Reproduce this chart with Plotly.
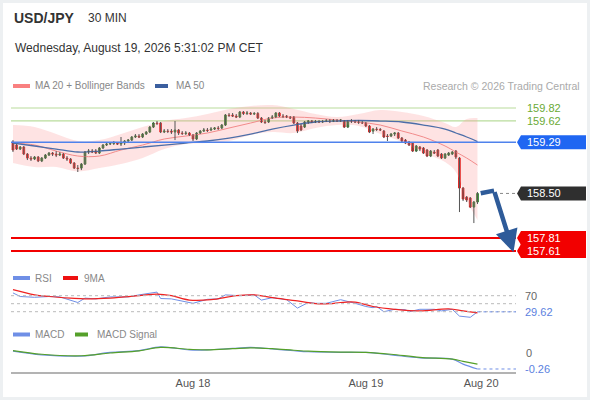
import plotly.graph_objects as go

W, H = 590, 400
FONT = "Arial, Liberation Sans, sans-serif"

# ---- price candles (30 min bars, left to right) ----
opens = [159.294, 159.248, 159.186, 159.217, 159.109, 159.047, 159.032, 159.062, 159.001, 159.047,
         159.093, 159.124, 159.109, 159.093, 159.109, 159.047, 159.032, 158.970, 158.892, 158.892,
         158.954, 159.140, 159.155, 159.155, 159.124, 159.202, 159.248, 159.263, 159.271, 159.279,
         159.263, 159.279, 159.310, 159.325, 159.372, 159.387, 159.372, 159.418, 159.449, 159.526,
         159.588, 159.588, 159.449, 159.464, 159.464, 159.449, 159.480, 159.433, 159.426, 159.433,
         159.403, 159.341, 159.433, 159.464, 159.480, 159.480, 159.495, 159.511, 159.511, 159.557,
         159.712, 159.712, 159.696, 159.681, 159.758, 159.735, 159.743, 159.727, 159.735, 159.665,
         159.604, 159.604, 159.665, 159.681, 159.743, 159.696, 159.696, 159.681, 159.681, 159.588,
         159.542, 159.526, 159.604, 159.619, 159.604, 159.611, 159.604, 159.611, 159.619, 159.611,
         159.627, 159.619, 159.619, 159.526, 159.619, 159.611, 159.604, 159.596, 159.588, 159.542,
         159.464, 159.495, 159.488, 159.464, 159.387, 159.387, 159.418, 159.433, 159.356, 159.325,
         159.294, 159.279, 159.155, 159.217, 159.202, 159.171, 159.078, 159.140, 159.171, 159.109,
         159.047, 159.093, 159.109, 159.155, 159.047, 158.583, 158.444, 158.429, 158.289, 158.367]
highs = [159.325, 159.263, 159.233, 159.233, 159.124, 159.078, 159.078, 159.078, 159.062, 159.109,
         159.140, 159.140, 159.155, 159.140, 159.124, 159.078, 159.047, 158.985, 158.939, 158.970,
         159.155, 159.186, 159.186, 159.186, 159.217, 159.263, 159.294, 159.294, 159.310, 159.294,
         159.372, 159.325, 159.341, 159.387, 159.418, 159.418, 159.433, 159.464, 159.542, 159.604,
         159.619, 159.604, 159.495, 159.495, 159.495, 159.619, 159.495, 159.464, 159.464, 159.449,
         159.418, 159.449, 159.480, 159.511, 159.511, 159.526, 159.526, 159.542, 159.573, 159.727,
         159.743, 159.743, 159.727, 159.774, 159.774, 159.774, 159.758, 159.758, 159.758, 159.681,
         159.635, 159.681, 159.712, 159.758, 159.758, 159.727, 159.712, 159.696, 159.696, 159.604,
         159.573, 159.619, 159.635, 159.635, 159.635, 159.635, 159.635, 159.650, 159.650, 159.650,
         159.650, 159.650, 159.635, 159.635, 159.650, 159.635, 159.635, 159.619, 159.604, 159.557,
         159.511, 159.526, 159.511, 159.480, 159.418, 159.433, 159.449, 159.449, 159.372, 159.341,
         159.310, 159.294, 159.248, 159.233, 159.217, 159.186, 159.171, 159.171, 159.186, 159.124,
         159.124, 159.140, 159.155, 159.171, 159.062, 158.599, 158.460, 158.444, 158.382, 158.521]
lows = [159.140, 159.171, 159.171, 159.093, 159.016, 159.001, 159.016, 158.985, 158.985, 159.032,
        159.078, 159.078, 159.062, 159.078, 159.032, 159.001, 158.954, 158.877, 158.831, 158.861,
        158.939, 159.109, 159.124, 159.109, 159.109, 159.186, 159.233, 159.248, 159.248, 159.248,
        159.233, 159.248, 159.279, 159.310, 159.356, 159.356, 159.356, 159.403, 159.433, 159.511,
        159.557, 159.433, 159.433, 159.433, 159.418, 159.325, 159.403, 159.403, 159.403, 159.387,
        159.310, 159.325, 159.418, 159.449, 159.449, 159.464, 159.480, 159.480, 159.495, 159.542,
        159.681, 159.681, 159.665, 159.665, 159.712, 159.712, 159.712, 159.712, 159.650, 159.588,
        159.573, 159.588, 159.650, 159.665, 159.681, 159.665, 159.665, 159.650, 159.573, 159.433,
        159.464, 159.511, 159.573, 159.588, 159.588, 159.588, 159.588, 159.604, 159.588, 159.604,
        159.604, 159.604, 159.511, 159.511, 159.588, 159.588, 159.573, 159.573, 159.526, 159.433,
        159.418, 159.464, 159.464, 159.356, 159.310, 159.372, 159.387, 159.341, 159.294, 159.263,
        159.233, 159.140, 159.140, 159.155, 159.109, 159.062, 159.062, 159.109, 159.062, 159.032,
        159.032, 159.078, 159.093, 159.032, 158.212, 158.382, 158.367, 158.274, 158.042, 158.336]
closes = [159.171, 159.186, 159.217, 159.109, 159.047, 159.032, 159.062, 159.001, 159.047, 159.093,
          159.124, 159.109, 159.093, 159.109, 159.047, 159.032, 158.970, 158.892, 158.885, 158.954,
          159.140, 159.155, 159.140, 159.124, 159.202, 159.248, 159.263, 159.271, 159.279, 159.263,
          159.279, 159.310, 159.325, 159.372, 159.387, 159.372, 159.418, 159.449, 159.526, 159.588,
          159.580, 159.449, 159.464, 159.457, 159.449, 159.480, 159.433, 159.426, 159.433, 159.403,
          159.341, 159.433, 159.464, 159.480, 159.472, 159.495, 159.511, 159.503, 159.557, 159.712,
          159.704, 159.696, 159.681, 159.758, 159.735, 159.743, 159.727, 159.735, 159.665, 159.604,
          159.596, 159.665, 159.681, 159.743, 159.696, 159.689, 159.681, 159.665, 159.588, 159.464,
          159.480, 159.604, 159.619, 159.604, 159.611, 159.604, 159.611, 159.619, 159.611, 159.627,
          159.619, 159.635, 159.526, 159.619, 159.611, 159.604, 159.596, 159.588, 159.542, 159.449,
          159.495, 159.488, 159.480, 159.372, 159.380, 159.418, 159.433, 159.356, 159.310, 159.279,
          159.248, 159.155, 159.233, 159.186, 159.124, 159.078, 159.155, 159.124, 159.078, 159.047,
          159.109, 159.124, 159.140, 159.062, 158.583, 158.413, 158.398, 158.289, 158.367, 158.500]

# ---- MA 20 + Bollinger Bands, MA 50 (read at these bar positions) ----
band_idx = [0, 6, 12, 18, 24, 30, 36, 42, 48, 54, 60, 66, 72, 78, 84, 90, 96, 102, 108, 114, 120, 123, 126, 129]
bb_upper = [159.557, 159.526, 159.418, 159.310, 159.325, 159.418, 159.526, 159.619, 159.665, 159.727,
            159.805, 159.851, 159.866, 159.805, 159.727, 159.681, 159.727, 159.789, 159.758, 159.696,
            159.588, 159.526, 159.650, 159.665]
bb_lower = [158.970, 158.908, 158.908, 158.840, 158.893, 158.954, 159.047, 159.186, 159.264, 159.279,
            159.310, 159.403, 159.449, 159.434, 159.511, 159.557, 159.542, 159.418, 159.295, 159.124,
            158.985, 158.831, 158.398, 158.089]
ma20 = [159.279, 159.248, 159.155, 159.078, 159.078, 159.171, 159.248, 159.341, 159.387, 159.434,
        159.511, 159.588, 159.665, 159.681, 159.665, 159.635, 159.604, 159.557, 159.465, 159.372,
        159.233, 159.140, 159.047, 158.939]
ma50 = [159.279, 159.233, 159.186, 159.140, 159.155, 159.186, 159.217, 159.248, 159.279, 159.310,
        159.356, 159.418, 159.495, 159.557, 159.604, 159.619, 159.627, 159.619, 159.604, 159.557,
        159.495, 159.434, 159.372, 159.302]

# ---- key levels ----
resistances = [159.82, 159.62]
pivot = 159.29
last_price = 158.50
supports = [157.81, 157.61]

# projected path (bar position, price); last point is the arrow tip
proj_x = [129.9, 133.6, 139.0]
proj_y = [158.502, 158.543, 157.59]

# ---- RSI + 9MA ----
rsi_idx = [0, 2, 6, 10, 13, 16, 18, 20, 23, 27, 32, 35, 40, 41, 44, 50, 54, 57, 59, 63, 67, 69, 72,
           76, 79, 82, 84, 87, 91, 95, 98, 100, 101, 103, 106, 109, 110, 113, 117, 119, 122, 124, 127, 129]
rsi = [77, 68, 66, 68, 67, 59, 53, 64, 62, 67, 67, 72, 79, 63, 62, 51, 61, 62, 72, 70, 72, 59, 65,
       60, 39, 53, 51, 51, 60, 51, 43, 40, 43, 30, 36, 35, 30, 36, 36, 32, 36, 19, 16, 29.62]
rsi_ma_idx = [0, 6, 10, 16, 20, 27, 35, 40, 44, 49, 55, 62, 67, 72, 79, 84, 88, 91, 95, 100, 106, 113, 121, 125, 129]
rsi_ma = [85, 72, 68, 64, 62, 64, 70, 74, 70, 59, 60, 70, 72, 65, 57, 50, 50, 53, 54, 43, 36, 32, 37, 32, 27]
rsi_levels = [70, 50, 30]

# ---- MACD ----
macd_idx = [0, 8, 19, 27, 35, 41, 49, 54, 61, 66, 72, 78, 82, 91, 98, 105, 113, 122, 125, 129]
macd = [0.03, -0.03, -0.05, 0.01, 0.04, 0.10, 0.05, 0.05, 0.075, 0.09, 0.065, 0.037, 0.02, 0.01,
        0.01, -0.03, -0.08, -0.10, -0.18, -0.26]
macd_signal = [0.04, -0.02, -0.045, 0.0, 0.035, 0.09, 0.06, 0.05, 0.07, 0.085, 0.07, 0.045, 0.03,
               0.015, 0.01, -0.02, -0.07, -0.10, -0.135, -0.18]

tick_idx = [50, 98, 130]
tick_text = ["Aug 18", "Aug 19", "Aug 20"]

GREEN, RED = "#2f8a2f", "#e0201e"
BLUE_IND, RED_IND, GREEN_IND = "#6f8fe6", "#ee2222", "#55a02a"
ARROW = "#2e5b99"


def px(x):
    return x / W


def py(y):
    return 1 - y / H


bars = list(range(len(closes)))
X0, X1 = px(11), px(516)

fig = go.Figure()

# bollinger band fill, MAs
fig.add_trace(go.Scatter(x=band_idx, y=bb_upper, mode="lines", line=dict(width=0, shape="spline"),
                         hoverinfo="skip"))
fig.add_trace(go.Scatter(x=band_idx, y=bb_lower, mode="lines", line=dict(width=0, shape="spline"),
                         fill="tonexty", fillcolor="rgba(250,150,150,0.27)", hoverinfo="skip"))
fig.add_trace(go.Scatter(x=band_idx, y=ma20, mode="lines",
                         line=dict(color="#f28b8b", width=1, shape="spline")))
fig.add_trace(go.Scatter(x=band_idx, y=ma50, mode="lines",
                         line=dict(color="#4c6ea8", width=1.3, shape="spline")))

# wicks
wx, wy = [], []
for i, hi, lo in zip(bars, highs, lows):
    wx += [i, i, None]
    wy += [lo, hi, None]
fig.add_trace(go.Scatter(x=wx, y=wy, mode="lines", line=dict(color="#555555", width=1),
                         hoverinfo="skip"))

# bodies
fig.add_trace(go.Candlestick(
    x=bars, open=opens, close=closes,
    high=[max(o, c) for o, c in zip(opens, closes)],
    low=[min(o, c) for o, c in zip(opens, closes)],
    increasing=dict(line=dict(color=GREEN, width=1), fillcolor=GREEN),
    decreasing=dict(line=dict(color=RED, width=1), fillcolor=RED),
    whiskerwidth=0,
))

# projection: bent line, last leg drawn as an arrow
fig.add_trace(go.Scatter(x=proj_x[:2], y=proj_y[:2], mode="lines", cliponaxis=False,
                         line=dict(color=ARROW, width=4.5)))

# RSI
fig.add_trace(go.Scatter(x=rsi_idx, y=rsi, yaxis="y2", mode="lines",
                         line=dict(color=BLUE_IND, width=1)))
fig.add_trace(go.Scatter(x=rsi_ma_idx, y=rsi_ma, yaxis="y2", mode="lines",
                         line=dict(color=RED_IND, width=1.2, shape="spline")))

# MACD
fig.add_trace(go.Scatter(x=macd_idx, y=macd, yaxis="y3", mode="lines",
                         line=dict(color=BLUE_IND, width=1.2, shape="spline")))
fig.add_trace(go.Scatter(x=macd_idx, y=macd_signal, yaxis="y3", mode="lines",
                         line=dict(color=GREEN_IND, width=1.2, shape="spline")))

shapes = []
ann = []

# card background
shapes.append(dict(type="rect", xref="paper", yref="paper", x0=px(3), x1=px(587), y0=py(397),
                   y1=py(3), fillcolor="white", line=dict(width=0), layer="below"))

# level lines
for lv in resistances:
    shapes.append(dict(type="line", xref="paper", yref="y", x0=X0, x1=X1, y0=lv, y1=lv,
                       line=dict(color="#b9dc9c", width=1.2), layer="below"))
shapes.append(dict(type="line", xref="paper", yref="y", x0=X0, x1=X1, y0=pivot, y1=pivot,
                   line=dict(color="#4f82ec", width=1.5)))
for lv in supports:
    shapes.append(dict(type="line", xref="paper", yref="y", x0=X0, x1=X1, y0=lv, y1=lv,
                       line=dict(color="#f20000", width=2), layer="below"))
shapes.append(dict(type="line", xref="paper", yref="y", x0=px(500), x1=X1, y0=last_price,
                   y1=last_price, line=dict(color="#888888", width=1, dash="dot")))

# pointed price tags on the right
PPU = 158 / (159.944 - 157.502)   # pixels per price unit in the main panel
half = 7 / PPU


def tag(y, color):
    xa, xb, xc = px(517), px(521), px(586)
    return dict(type="path", xref="paper", yref="y", fillcolor=color, line=dict(width=0),
                path=f"M {xa},{y} L {xb},{y + half} L {xc},{y + half} L {xc},{y - half} "
                     f"L {xb},{y - half} Z", layer="below")


shapes.append(tag(pivot, "#1f66f2"))
shapes.append(tag(last_price, "#2f2f2f"))
for lv in supports:
    shapes.append(tag(lv, "#f20000"))

# arrow head leg of the projection
ann.append(dict(x=proj_x[2], y=proj_y[2], ax=proj_x[1], ay=proj_y[1], xref="x", yref="y",
                axref="x", ayref="y", text="", showarrow=True, arrowhead=2, arrowsize=1,
                arrowwidth=4.5, arrowcolor=ARROW, standoff=0))

for lv in resistances:
    ann.append(dict(x=px(525), y=lv, xref="paper", yref="y", text=f"{lv:.2f}", showarrow=False,
                    xanchor="left", yanchor="middle", font=dict(size=11, color="#6aaa35")))
for lv in [pivot, last_price] + supports:
    ann.append(dict(x=px(525), y=lv, xref="paper", yref="y", text=f"{lv:.2f}", showarrow=False,
                    xanchor="left", yanchor="middle", font=dict(size=11, color="white")))

# RSI guides
for lv in rsi_levels:
    shapes.append(dict(type="line", xref="paper", yref="y2", x0=X0, x1=X1, y0=lv, y1=lv,
                       line=dict(color="#bbbbbb", width=1, dash="dot")))
shapes.append(dict(type="line", xref="x", yref="y2", x0=rsi_idx[-1], x1=139.7, y0=rsi[-1],
                   y1=rsi[-1], line=dict(color=BLUE_IND, width=1, dash="dot")))
shapes.append(dict(type="line", xref="x", yref="y3", x0=macd_idx[-1], x1=139.7, y0=macd[-1],
                   y1=macd[-1], line=dict(color=BLUE_IND, width=1, dash="dot")))
ann.append(dict(x=px(523), y=70, xref="paper", yref="y2", text="70", showarrow=False,
                xanchor="left", yanchor="middle", font=dict(size=11, color="#666")))
ann.append(dict(x=px(523), y=rsi[-1], xref="paper", yref="y2", text=f"{rsi[-1]:.2f}",
                showarrow=False, xanchor="left", yanchor="middle",
                font=dict(size=11, color="#5b7fe0")))
ann.append(dict(x=px(524), y=0, xref="paper", yref="y3", text="0", showarrow=False,
                xanchor="left", yanchor="middle", font=dict(size=11, color="#666")))
ann.append(dict(x=px(523), y=macd[-1], xref="paper", yref="y3", text=f"{macd[-1]:.2f}",
                showarrow=False, xanchor="left", yanchor="middle",
                font=dict(size=11, color="#5b7fe0")))

# header
ann.append(dict(x=px(12), y=py(18), xref="paper", yref="paper", text="<b>USD/JPY</b>",
                showarrow=False, xanchor="left", yanchor="middle", font=dict(size=14, color="#333")))
ann.append(dict(x=px(86), y=py(18), xref="paper", yref="paper", text="30 MIN", showarrow=False,
                xanchor="left", yanchor="middle", font=dict(size=12, color="#333")))
ann.append(dict(x=px(13), y=py(48), xref="paper", yref="paper",
                text="Wednesday, August 19, 2026 5:31:02 PM CET", showarrow=False,
                xanchor="left", yanchor="middle", font=dict(size=12, color="#333")))
ann.append(dict(x=px(582), y=py(86), xref="paper", yref="paper",
                text="Research © 2026 Trading Central", showarrow=False, xanchor="right",
                yanchor="middle", font=dict(size=10.5, color="#aaaaaa")))

# legends: (swatch x0, swatch x1, text x, y, colour, label)
legend_items = [
    (13, 30, 33, 86, "#f98080", "MA 20 + Bollinger Bands"),
    (155, 168, 174, 86, "#3b5f9f", "MA 50"),
    (13, 30, 33, 278, BLUE_IND, "RSI"),
    (63, 78, 82, 278, "#ee1111", "9MA"),
    (13, 30, 33, 334.5, BLUE_IND, "MACD"),
    (75, 88, 95, 334.5, GREEN_IND, "MACD Signal"),
]
for sx0, sx1, tx, ty, col, lab in legend_items:
    shapes.append(dict(type="rect", xref="paper", yref="paper", x0=px(sx0), x1=px(sx1),
                       y0=py(ty + 2), y1=py(ty - 2), fillcolor=col, line=dict(width=0)))
    ann.append(dict(x=px(tx), y=py(ty), xref="paper", yref="paper", text=lab, showarrow=False,
                    xanchor="left", yanchor="middle", font=dict(size=10, color="#888")))

fig.update_layout(
    width=W, height=H, margin=dict(l=0, r=0, t=0, b=0),
    paper_bgcolor="#edf0f2", plot_bgcolor="rgba(0,0,0,0)",
    font=dict(family=FONT),
    showlegend=False,
    shapes=shapes, annotations=ann,
    xaxis=dict(domain=[X0, X1], range=[-0.55, 139.7], anchor="y3", showgrid=False,
               zeroline=False, showline=True, linecolor="#b3b3b3", linewidth=2,
               tickvals=tick_idx, ticktext=tick_text, ticks="",
               tickfont=dict(size=11, color="#555"), rangeslider=dict(visible=False)),
    yaxis=dict(domain=[py(258), py(100)], range=[157.502, 159.944], showgrid=False,
               zeroline=False, showticklabels=False, anchor="x"),
    yaxis2=dict(domain=[py(322), py(284)], range=[4.25, 99.25], showgrid=False,
                zeroline=False, showticklabels=False, anchor="x"),
    yaxis3=dict(domain=[py(372), py(338)], range=[-0.309, 0.244], showgrid=False,
                zeroline=False, showticklabels=False, anchor="x"),
)

# the page is a fixed 590x400 card: drop the browser's default body margin
fig.write_html("out.html", config={"displayModeBar": False},
               post_script="document.body.style.margin='0';")
